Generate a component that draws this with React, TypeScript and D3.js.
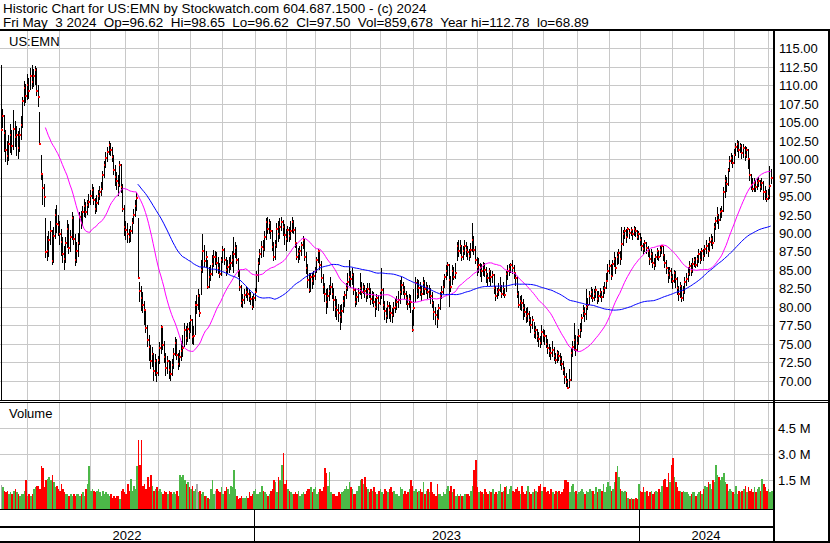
import React from 'react';
import * as d3 from 'd3';

// ---- data (first bar is the data glitch at the left edge) ----
const closes: number[] = [104.0,
105.9,103.6,101.2,100.4,102.0,103.3,101.8,104.1,103.0,103.3,
101.5,103.2,104.6,107.9,109.6,108.6,110.0,109.2,111.3,110.4,
111.3,112.0,109.2,108.4,102.0,98.0,96.1,94.9,87.4,87.5,
89.0,90.2,86.2,89.6,92.4,91.2,91.1,89.8,88.8,87.2,
86.5,88.6,90.6,88.0,89.5,92.0,89.2,86.4,87.6,88.6,
92.2,91.4,92.9,93.6,92.8,93.8,94.2,95.0,95.8,94.4,
93.2,94.0,95.0,95.6,96.0,97.9,99.2,100.2,101.0,101.9,
101.2,100.3,98.5,97.6,97.0,96.5,99.2,96.2,93.3,90.8,
90.4,89.8,89.4,90.2,91.4,92.4,93.6,94.8,83.9,82.2,
81.2,80.3,79.6,77.2,75.5,74.6,72.7,73.6,71.3,72.7,
71.0,72.8,74.4,77.3,74.8,73.2,71.7,72.6,71.5,70.9,
72.1,73.6,75.1,73.5,72.2,73.2,74.0,74.4,76.9,75.8,
77.0,76.6,78.2,75.9,76.0,80.3,80.3,81.5,79.1,85.0,
87.5,86.2,86.8,82.7,84.1,84.5,85.8,86.8,86.8,85.9,
85.2,84.5,86.3,87.7,86.4,85.0,85.4,85.7,86.0,86.3,
87.2,87.9,86.3,84.8,82.7,80.5,80.9,81.6,82.0,81.7,
81.4,81.0,80.0,81.2,82.0,84.3,86.0,87.2,88.1,87.8,
89.5,91.5,90.6,91.4,90.2,88.1,86.8,88.4,90.6,89.8,
90.8,91.5,90.8,89.7,89.2,90.4,89.6,90.2,91.5,90.4,
88.6,86.8,87.2,87.5,88.4,89.1,86.8,85.2,83.6,82.3,
84.1,83.5,84.2,84.8,86.3,87.5,85.6,83.9,82.7,81.8,
80.7,81.5,82.2,82.7,81.8,80.9,80.0,79.6,79.1,78.6,
79.5,80.8,81.6,82.6,83.4,84.1,83.8,84.3,82.3,80.7,
81.3,81.9,82.5,82.0,82.7,82.1,81.6,82.4,82.1,81.0,
81.6,80.6,80.0,81.2,80.5,81.6,82.3,80.3,79.4,78.7,
80.1,79.6,79.2,78.9,79.8,80.0,80.6,80.9,82.0,83.0,
82.3,81.8,81.2,80.4,81.0,80.7,76.9,79.8,83.2,81.8,
82.6,82.3,81.7,83.2,82.4,82.7,82.0,82.3,81.4,80.5,
79.3,78.9,78.4,79.8,81.4,82.0,82.7,84.1,84.8,85.7,
83.6,82.7,84.8,84.0,84.6,88.2,87.6,88.2,86.8,87.5,
88.3,87.7,87.4,86.9,87.7,89.1,87.7,86.4,85.4,85.7,
85.2,84.8,85.6,85.0,84.4,83.9,84.8,84.0,84.3,82.6,
81.4,82.0,82.3,82.8,81.8,82.4,81.6,84.5,84.8,85.1,
85.7,85.2,84.6,83.9,81.8,80.3,80.8,80.5,79.8,79.3,
78.7,79.0,78.2,77.6,78.2,76.4,76.8,76.0,75.6,75.1,
76.6,76.2,76.0,75.0,74.4,74.0,73.7,74.2,73.4,72.8,
73.7,73.3,73.0,72.2,71.5,70.5,69.8,69.0,70.1,73.7,
74.6,75.5,74.2,75.1,76.0,76.9,78.5,79.5,79.0,80.0,
80.3,81.5,82.0,81.2,81.8,82.3,81.0,81.5,82.0,81.3,
82.2,82.5,83.5,84.8,85.5,84.2,85.8,86.5,85.2,86.8,
87.3,86.5,88.5,89.8,90.2,89.5,90.5,90.0,90.4,89.8,
90.6,90.2,89.5,89.8,89.0,88.3,87.8,88.6,88.0,87.6,
86.5,87.2,86.0,85.6,86.8,87.5,86.8,87.7,88.2,87.0,
86.0,85.2,84.3,84.8,84.0,83.5,84.6,83.8,82.5,81.8,
82.8,81.2,82.0,83.4,83.8,84.5,85.5,84.8,85.8,86.3,
85.6,86.5,87.2,86.4,87.6,86.9,87.8,88.2,87.5,88.8,
89.2,88.6,90.8,91.6,92.4,91.8,92.8,93.0,95.5,97.0,
96.6,98.5,99.8,100.2,99.5,100.5,101.6,102.0,101.2,101.8,
100.8,101.5,100.6,101.2,100.0,97.8,96.5,96.0,96.8,96.2,
96.7,97.0,96.2,96.8,95.6,95.5,94.6,95.0,96.4,97.5];

const highs: number[] = [112.7,
106.8,106.0,104.0,102.4,103.2,104.8,104.0,106.6,105.2,104.5,
103.8,104.2,105.8,108.4,110.6,110.2,111.5,111.0,112.4,112.8,
112.2,112.6,112.3,110.0,106.4,100.5,97.9,96.6,92.0,89.6,
90.2,91.6,90.4,90.8,93.2,93.8,92.4,91.6,90.6,89.4,
88.2,89.4,91.8,91.2,90.4,92.8,92.3,89.8,88.8,90.0,
92.8,93.0,93.6,94.6,94.2,94.5,95.3,95.8,96.6,96.2,
94.8,95.2,95.8,96.4,96.9,98.4,99.8,100.9,101.6,102.4,
102.2,101.6,100.6,99.2,98.2,97.8,99.8,99.4,96.6,93.8,
91.6,91.4,90.6,91.0,92.0,93.2,94.4,95.4,92.0,83.4,
82.8,82.0,80.8,79.4,77.6,76.2,74.8,74.6,73.8,73.6,
73.0,73.4,75.2,77.6,77.2,75.4,73.8,73.4,72.8,72.6,
73.0,74.4,75.9,75.6,73.8,74.2,75.4,76.2,77.8,77.4,
77.8,78.0,78.9,78.4,77.4,80.8,81.6,82.4,81.8,86.4,
89.8,88.4,87.6,86.4,85.4,85.6,87.0,87.7,87.6,87.4,
86.8,86.0,86.8,88.2,88.0,86.8,86.4,86.7,87.0,87.6,
89.5,88.8,88.4,86.6,85.0,83.0,81.8,82.4,82.8,82.6,
82.4,82.0,81.4,81.8,82.6,84.8,86.6,87.8,88.9,89.0,
90.2,92.0,92.2,91.9,91.6,90.4,88.8,89.0,91.4,91.6,
92.0,92.2,91.8,91.2,90.6,91.0,90.8,91.6,92.2,91.8,
90.8,88.6,88.0,88.2,88.8,89.6,89.2,87.4,85.8,84.6,
84.6,84.6,84.8,85.4,86.8,87.8,87.4,86.2,84.4,83.2,
82.4,82.6,83.0,84.0,83.2,82.6,81.4,81.0,80.4,80.2,
80.4,81.4,82.2,83.2,84.6,86.3,84.8,85.2,84.6,82.6,
82.0,82.6,84.6,83.4,83.2,83.0,82.6,83.2,83.2,82.6,
82.2,82.0,81.2,81.8,81.6,82.0,85.2,82.6,80.8,79.8,
80.8,80.6,80.2,79.8,80.6,81.0,81.4,82.2,83.6,84.0,
83.4,82.8,82.2,81.6,81.8,81.6,79.6,82.4,84.0,83.8,
83.6,83.4,82.8,84.0,83.6,83.4,83.0,83.0,82.6,82.0,
80.8,80.0,79.6,80.4,82.0,82.8,83.6,84.4,85.6,86.1,
85.8,84.2,85.6,85.4,86.0,88.8,89.0,89.0,88.4,88.2,
89.0,88.8,88.2,87.8,88.6,91.3,89.6,88.2,86.8,86.6,
86.0,85.8,86.1,86.0,85.4,84.6,85.2,85.0,84.8,84.4,
82.8,82.6,83.2,84.0,83.0,83.4,82.6,84.8,85.6,85.8,
86.0,86.3,85.6,84.6,84.2,82.2,81.4,81.6,81.0,80.4,
79.8,80.0,79.4,78.6,78.7,78.0,77.4,77.0,76.6,76.0,
77.6,77.0,76.8,76.2,75.6,75.0,74.6,75.4,74.6,73.8,
74.2,74.0,73.8,73.4,72.6,71.8,71.0,70.2,71.6,74.4,
75.4,77.8,76.2,76.0,77.0,77.8,79.0,80.2,80.0,82.4,
81.2,82.2,82.7,82.4,82.4,82.8,82.2,82.2,82.6,82.2,
82.8,83.4,84.6,85.8,86.3,85.8,86.4,87.4,86.8,87.4,
87.8,87.6,90.8,90.4,90.8,90.6,90.8,90.6,90.8,90.4,
90.9,90.8,90.4,90.2,90.0,89.4,88.6,89.0,88.8,88.2,
87.8,87.8,87.4,86.6,87.2,88.0,87.6,88.2,88.4,88.2,
87.2,86.4,85.4,85.4,85.2,84.4,85.0,84.8,84.0,82.8,
83.4,83.0,82.8,84.0,84.6,85.4,86.2,86.0,86.6,86.8,
86.8,87.0,87.8,87.6,88.0,87.8,88.4,89.0,88.6,89.5,
89.8,89.6,91.4,92.2,93.5,92.6,93.4,93.6,96.2,97.8,
97.6,98.8,100.4,100.8,100.6,101.4,102.2,102.6,102.4,102.2,
102.0,102.0,101.8,101.6,101.4,100.0,98.0,97.4,97.4,97.2,
97.4,97.6,97.2,97.4,97.0,96.4,95.8,96.0,99.0,98.65];

const lows: number[] = [0,
104.2,101.0,99.6,99.2,99.8,100.8,100.6,101.2,101.6,100.4,
100.0,101.0,102.6,104.2,107.2,107.6,108.0,108.2,109.4,109.5,
109.8,110.0,108.6,107.0,102.0,97.2,93.8,93.5,86.6,86.2,
86.8,88.4,85.6,86.0,89.2,90.0,89.6,88.4,86.9,86.0,
85.0,86.0,88.0,87.2,87.4,89.0,88.4,85.5,86.0,86.8,
88.4,90.6,91.0,92.2,92.0,92.4,93.4,93.8,94.6,93.8,
92.6,92.8,93.8,94.4,95.0,95.8,97.4,98.8,99.6,100.6,
100.4,99.6,97.8,96.4,95.8,95.0,96.2,95.4,92.8,89.6,
89.0,88.6,88.6,88.8,89.8,91.2,92.2,93.0,83.9,80.6,
79.4,79.2,77.6,76.4,74.6,72.6,71.6,71.8,70.0,70.6,
69.8,70.6,72.2,73.6,74.2,72.4,70.6,70.9,70.2,69.9,
70.6,71.6,73.4,72.8,71.4,71.8,72.6,73.2,74.6,74.8,
75.2,75.6,76.4,75.0,74.8,76.2,79.0,79.6,78.6,81.6,
84.6,85.4,85.2,82.4,82.6,83.5,84.2,85.4,85.6,84.6,
84.4,83.9,84.2,86.0,85.6,84.2,84.4,84.6,85.0,85.4,
84.6,86.6,85.8,84.0,82.2,80.0,79.8,80.4,81.2,80.8,
80.6,80.2,79.6,79.8,80.8,82.0,83.4,85.6,86.6,86.8,
87.6,89.0,89.8,89.8,89.2,87.6,86.2,86.4,88.0,88.8,
89.2,90.2,89.6,88.4,87.6,88.8,88.8,89.0,90.0,89.8,
88.0,86.3,86.0,86.4,86.9,87.8,86.2,84.4,82.6,81.9,
82.0,82.4,83.0,83.6,84.6,86.0,85.0,83.2,81.8,80.6,
79.0,79.8,80.8,81.6,81.0,79.4,78.6,78.2,78.0,76.8,
77.8,79.2,80.0,81.0,82.2,82.8,82.6,83.0,81.6,80.0,
80.2,80.6,81.6,81.0,81.8,81.2,80.6,81.0,81.2,80.2,
80.4,80.0,78.6,79.6,79.4,80.2,81.0,79.6,78.2,77.8,
78.4,78.4,78.0,77.8,78.6,79.2,79.6,79.8,80.4,81.6,
81.6,81.0,80.2,79.6,79.8,79.2,76.6,77.4,80.6,81.0,
81.2,81.4,80.8,81.6,81.6,81.8,81.0,81.2,80.4,79.8,
78.2,77.6,77.2,78.4,79.6,81.0,81.8,82.6,83.6,84.2,
80.0,82.0,83.0,83.6,83.8,86.2,86.8,87.2,86.2,86.4,
87.0,86.8,86.4,86.2,86.6,87.4,87.0,85.8,84.2,84.6,
84.0,83.4,84.2,84.0,83.2,82.8,83.4,82.8,83.2,81.8,
80.8,81.0,81.4,82.0,81.2,81.4,81.2,82.0,83.6,84.2,
84.6,84.4,83.8,82.8,81.2,79.8,79.6,79.4,78.2,78.6,
77.8,78.0,77.4,76.4,77.0,75.8,75.6,75.2,74.6,74.4,
74.8,75.2,74.8,74.4,73.6,73.2,72.8,73.2,72.6,72.2,
72.4,72.6,72.0,71.4,70.8,69.6,69.2,68.9,69.0,70.0,
73.2,74.0,73.4,74.0,74.8,75.8,76.6,78.6,78.0,78.2,
79.6,80.2,81.0,80.6,80.8,81.2,80.4,80.6,81.2,80.6,
81.2,81.8,82.4,83.6,84.4,83.6,84.2,85.4,84.4,85.6,
85.8,85.6,86.4,88.2,89.2,88.6,89.4,89.2,89.6,89.0,
89.6,89.4,89.0,89.0,88.2,87.6,87.2,87.4,87.2,86.8,
85.6,86.0,85.2,85.0,85.4,86.4,86.2,86.8,87.2,86.2,
85.2,84.4,83.2,83.8,83.2,82.4,83.2,82.6,81.6,80.8,
81.2,80.6,80.8,81.8,82.8,83.4,84.2,84.2,84.6,85.4,
85.2,85.4,86.0,85.8,86.2,86.2,86.8,87.2,86.8,87.6,
88.2,87.8,88.8,90.4,91.2,90.6,91.6,92.0,92.8,94.8,
95.6,96.4,98.2,99.4,98.8,99.4,100.4,101.0,100.2,100.8,
100.0,100.2,99.8,100.2,98.6,97.0,95.8,95.6,95.6,95.6,
95.8,96.2,95.6,95.8,94.4,94.4,94.2,94.4,94.6,96.62];

// volume in millions of shares
const volumes: number[] = [1.23,
1.1,0.9,0.8,0.9,0.7,0.8,0.7,0.9,1.0,0.8,
0.7,0.6,0.7,0.7,0.9,1.5,0.6,0.7,0.6,0.7,
1.0,1.1,1.2,1.2,1.0,2.3,2.2,1.1,1.5,1.6,
1.7,1.5,1.8,1.4,1.1,1.2,1.0,0.9,1.3,1.0,
0.8,0.7,0.7,0.6,0.7,0.6,0.7,0.6,0.7,0.7,
0.6,0.7,0.8,0.6,1.0,1.3,2.3,0.9,1.0,0.9,
0.8,0.9,1.0,0.8,0.6,0.9,0.7,0.8,0.7,0.6,
0.7,0.5,0.6,0.5,0.6,0.6,0.4,0.9,1.0,0.8,
0.7,1.3,0.9,1.6,0.9,1.2,1.0,2.3,3.8,2.4,
3.8,1.2,1.3,1.0,1.7,1.1,1.8,1.2,0.9,1.0,
1.1,0.9,1.0,0.8,0.7,0.9,0.8,0.7,0.9,0.8,
0.7,0.8,0.7,0.9,0.6,1.8,1.7,1.8,1.5,1.3,
1.4,1.1,1.0,1.2,0.9,1.0,1.3,0.8,0.9,0.7,
0.8,0.6,0.6,0.5,0.4,1.0,1.5,0.7,0.9,1.0,
0.9,0.8,1.1,0.7,0.9,1.1,1.0,0.7,1.2,1.1,
2.1,1.0,0.6,0.4,0.5,0.6,0.5,0.5,0.6,0.5,
0.8,0.6,0.7,0.9,1.0,0.7,0.7,0.8,1.2,0.9,
0.8,0.7,0.6,0.7,0.9,1.0,1.5,1.4,0.8,1.7,
1.5,2.4,3.1,1.3,1.5,1.0,0.9,0.8,0.7,0.7,
0.8,0.7,0.9,0.6,0.7,0.8,0.7,0.9,1.0,1.0,
1.1,0.8,1.0,1.1,0.7,0.8,1.0,0.9,1.1,2.2,
1.9,1.2,2.0,0.8,0.7,0.7,0.6,0.6,0.8,0.7,
0.8,0.9,1.0,1.2,1.0,1.4,1.1,1.0,0.7,0.7,
0.9,1.2,1.5,1.6,1.3,1.7,1.1,1.0,0.8,1.0,
0.9,1.1,0.8,0.7,0.9,1.0,0.8,0.7,1.0,0.9,
0.8,1.0,1.1,0.8,0.9,0.7,0.7,0.6,1.1,1.0,
0.7,0.9,0.7,0.8,1.0,1.5,1.2,0.9,1.0,0.8,
0.9,1.0,0.8,1.4,0.7,0.9,1.0,0.8,1.4,0.8,
0.7,0.6,1.3,0.7,0.7,0.6,0.8,0.7,1.0,1.2,
0.9,1.2,0.8,1.0,0.6,0.7,0.6,0.7,0.6,0.6,
0.7,0.7,0.7,0.6,0.9,1.2,2.1,2.7,1.1,0.8,
0.9,0.8,0.7,1.0,0.8,0.7,0.9,0.8,1.0,0.7,
0.8,0.7,0.9,1.3,0.8,0.9,1.1,1.2,0.7,1.0,
1.2,0.9,0.8,1.0,1.1,0.9,0.7,1.2,0.8,0.7,
0.9,1.2,0.8,0.7,0.8,1.0,0.9,0.8,1.2,1.3,
0.9,1.1,1.1,0.8,0.9,0.7,1.0,0.8,0.7,0.9,
0.8,0.9,0.7,0.8,1.0,1.5,1.5,1.4,0.8,1.2,
1.3,0.8,0.9,0.7,0.8,0.9,1.0,0.8,0.7,0.9,
0.8,1.0,0.9,0.9,0.7,1.1,0.8,1.0,1.0,0.9,
1.3,0.8,1.1,1.4,1.2,0.9,1.0,1.4,2.0,2.3,
1.7,1.0,0.9,0.8,0.9,0.8,0.5,0.4,0.5,0.4,
0.4,0.5,0.4,1.3,0.9,0.8,1.1,0.8,0.9,0.6,
0.8,0.9,0.7,0.8,0.9,0.8,1.0,0.8,1.2,1.5,
1.6,1.1,1.9,1.4,2.4,2.8,1.7,1.4,1.1,0.9,
0.9,0.8,0.9,0.8,0.8,0.7,0.6,0.7,0.8,0.8,
0.6,0.7,0.8,0.9,0.7,1.0,1.2,1.1,1.4,1.3,
1.0,1.5,1.4,2.4,1.8,1.7,1.5,1.7,1.9,1.4,
1.3,0.9,1.0,0.9,0.8,0.7,1.2,0.7,0.9,0.8,
0.9,1.0,1.2,0.8,1.1,0.9,1.0,0.8,1.1,0.8,
1.0,1.1,0.9,1.6,1.3,1.1,0.9,1.0,0.8,0.86];

const priceTicks = [70, 72.5, 75, 77.5, 80, 82.5, 85, 87.5, 90, 92.5, 95, 97.5, 100, 102.5, 105, 107.5, 110, 112.5, 115];
const volumeTicks = [1.5, 3.0, 4.5];
const volumeTickLabels = ['1.5 M', '3.0 M', '4.5 M'];
const holidays = ['2022-05-30','2022-06-20','2022-07-04','2022-09-05','2022-11-24','2022-12-26',
  '2023-01-02','2023-01-16','2023-02-20','2023-04-07','2023-05-29','2023-06-19','2023-07-04','2023-09-04','2023-11-23','2023-12-25',
  '2024-01-01','2024-01-15','2024-02-19','2024-03-29'];
const lastDay = [2024, 4, 3];
const maPeriods = [30, 90];
const maColors = ['#ff00ff', '#0000ff'];
const header1 = 'Historic Chart for US:EMN by Stockwatch.com 604.687.1500 - (c) 2024';
const header2 = 'Fri May  3 2024  Op=96.62  Hi=98.65  Lo=96.62  Cl=97.50  Vol=859,678  Year hi=112.78  lo=68.89';
const symbolLabel = 'US:EMN';
const volumeLabel = 'Volume';

function tradingDates(n: number): Date[] {
  const hol = new Set(holidays);
  const out: Date[] = [];
  const d = new Date(Date.UTC(lastDay[0], lastDay[1], lastDay[2]));
  while (out.length < n) {
    const dow = d.getUTCDay();
    const key = d.toISOString().slice(0, 10);
    if (dow !== 0 && dow !== 6 && !hol.has(key)) out.unshift(new Date(d.getTime()));
    d.setUTCDate(d.getUTCDate() - 1);
  }
  return out;
}

function sma(vals: number[], n: number): (number | null)[] {
  return vals.map((_, i) => (i < n - 1 ? null : (d3.mean(vals.slice(i - n + 1, i + 1)) as number)));
}

const FONT = '"Liberation Sans", Arial, Helvetica, sans-serif';
const GRID = '#c8c8c8';

export default function App() {
  const N = Math.min(closes.length, highs.length, lows.length, volumes.length);
  const plotRight = 773;
  const x = d3.scaleLinear().domain([0, N - 1]).range([0.7, 770.7]);
  const yP = d3.scaleLinear().domain([70, 115]).range([380.7, 48.3]);
  const yV = d3.scaleLinear().domain([0, 4.5]).range([506.3, 428.3]);
  const dates = tradingDates(N);

  const monthIdx: number[] = [];
  const yearIdx: number[] = [];
  for (let i = 1; i < N; i++) {
    if (dates[i].getUTCMonth() !== dates[i - 1].getUTCMonth()) monthIdx.push(i);
    if (dates[i].getUTCFullYear() !== dates[i - 1].getUTCFullYear()) yearIdx.push(i);
  }
  const yearBounds = [0, ...yearIdx.map((i) => Math.round(x(i)) - 1), plotRight];
  const yearNames = [dates[0].getUTCFullYear(), ...yearIdx.map((i) => dates[i].getUTCFullYear())];

  const cl = closes.slice(0, N);
  const mas = maPeriods.map((p) => sma(cl, p));
  const line = d3
    .line<number | null>()
    .defined((d) => d != null)
    .x((_, i) => x(i))
    .y((d) => yP(d as number));

  const volColor = (i: number) => {
    if (i === 0) return '#a8a8a8';
    if (cl[i] > cl[i - 1]) return '#4cb848';
    if (cl[i] < cl[i - 1]) return '#ff0000';
    return '#a8a8a8';
  };

  const bars = [];
  for (let i = 0; i < N; i++) {
    const px = Math.round(x(i));
    const yh = Math.round(yP(highs[i]));
    const yl = Math.round(yP(lows[i]));
    const yc = Math.round(yP(closes[i]));
    bars.push(
      <g key={i}>
        <rect x={px} y={yh} width={1} height={Math.max(1, yl - yh)} fill="#000" />
        <rect x={px} y={yc - 1} width={2} height={2} fill="#ff0000" />
      </g>
    );
  }

  const vbars = [];
  for (let i = 0; i < N; i++) {
    const px = Math.round(x(i));
    const nx = i < N - 1 ? Math.round(x(i + 1)) : px + 2;
    const yt = Math.round(yV(volumes[i]));
    vbars.push(<rect key={i} x={px} y={yt} width={Math.max(1, nx - px)} height={509 - yt} fill={volColor(i)} />);
  }

  return (
    <svg
      width={830}
      height={543}
      style={{ position: 'absolute', left: 0, top: 0, background: '#fff' }}
      shapeRendering="crispEdges"
    >
      <defs>
        <clipPath id="pclip">
          <rect x={0} y={31} width={plotRight} height={369} />
        </clipPath>
      </defs>
      <rect x={0} y={0} width={830} height={543} fill="#fff" />

      {/* price grid */}
      {priceTicks.map((v) => (
        <line key={'pg' + v} x1={0} x2={plotRight} y1={Math.round(yP(v)) + 0.5} y2={Math.round(yP(v)) + 0.5} stroke={GRID} strokeWidth={1} />
      ))}
      {monthIdx.map((i) => (
        <line key={'mg' + i} x1={Math.round(x(i)) + 0.5} x2={Math.round(x(i)) + 0.5} y1={31} y2={400} stroke={GRID} strokeWidth={1} />
      ))}
      {/* volume grid */}
      {volumeTicks.map((v) => (
        <line key={'vg' + v} x1={0} x2={plotRight} y1={Math.round(yV(v)) + 0.5} y2={Math.round(yV(v)) + 0.5} stroke={GRID} strokeWidth={1} />
      ))}
      {monthIdx.map((i) => (
        <line key={'vmg' + i} x1={Math.round(x(i)) + 0.5} x2={Math.round(x(i)) + 0.5} y1={403} y2={509} stroke={GRID} strokeWidth={1} />
      ))}

      <g clipPath="url(#pclip)">{bars}</g>
      <g clipPath="url(#pclip)" shapeRendering="auto">
        {mas.map((m, k) => (
          <path key={'ma' + k} d={line(m) || ''} fill="none" stroke={maColors[k]} strokeWidth={1} />
        ))}
      </g>
      <g>{vbars}</g>

      {/* frame */}
      <rect x={0} y={29} width={830} height={2} fill="#000" />
      <rect x={0} y={400} width={830} height={1} fill="#000" />
      <rect x={0} y={402} width={830} height={1} fill="#000" />
      <rect x={0} y={509} width={plotRight} height={1} fill="#000" />
      <rect x={0} y={526} width={plotRight} height={2} fill="#000" />
      <rect x={0} y={541} width={830} height={2} fill="#000" />
      <rect x={773} y={29} width={2} height={514} fill="#000" />
      <rect x={828} y={29} width={2} height={514} fill="#000" />
      {yearIdx.map((i) => (
        <rect key={'ys' + i} x={Math.round(x(i)) - 1} y={509} width={1} height={33} fill="#000" />
      ))}

      {/* texts */}
      <g fontFamily={FONT} fontSize={13} fill="#000" shapeRendering="auto">
        <text x={3} y={13} fontSize={13.45} xmlSpace="preserve" style={{ whiteSpace: 'pre' }}>{header1}</text>
        <text x={3} y={26.5} fontSize={13.45} xmlSpace="preserve" style={{ whiteSpace: 'pre' }}>{header2}</text>
        <text x={9} y={46}>{symbolLabel}</text>
        <text x={9} y={418}>{volumeLabel}</text>
        {priceTicks.map((v) => (
          <text key={'pt' + v} x={779} y={Math.round(yP(v)) + 5}>{v.toFixed(2)}</text>
        ))}
        {volumeTicks.map((v, k) => (
          <text key={'vt' + v} x={778} y={Math.round(yV(v)) + 5}>{volumeTickLabels[k]}</text>
        ))}
        {yearNames.map((yr, k) => (
          <text key={'yr' + yr} x={(yearBounds[k] + yearBounds[k + 1]) / 2} y={539.5} textAnchor="middle">{String(yr)}</text>
        ))}
      </g>
    </svg>
  );
}
